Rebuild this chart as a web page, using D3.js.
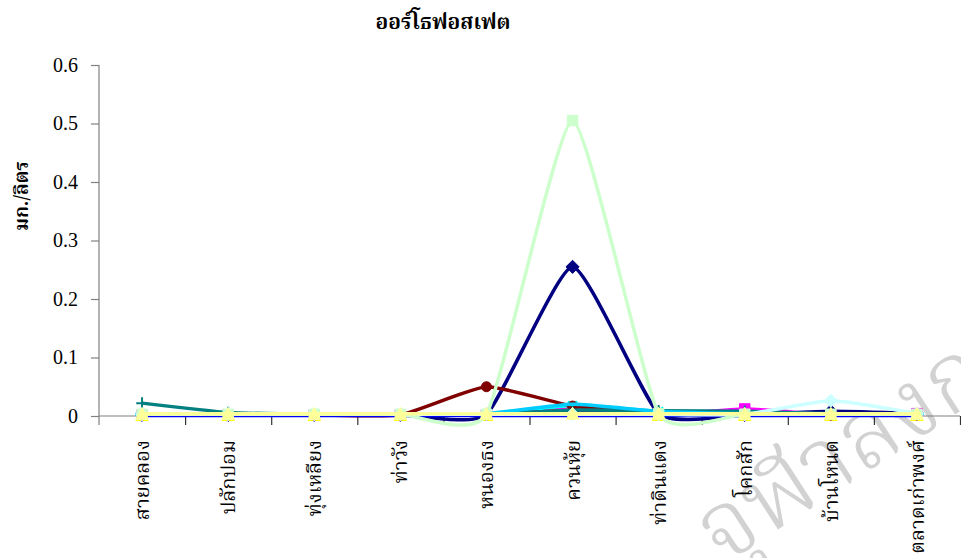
<!DOCTYPE html>
<html>
<head>
<meta charset="utf-8">
<script src="https://cdn.jsdelivr.net/npm/d3@7"></script>
<style>
  body { margin: 0; background: #fff; }
  svg { display: block; }
</style>
</head>
<body>
<svg id="chart" width="961" height="558"></svg>
<script>
// Sampling stations along the canal (category axis)
const stations = ["สายคลอง", "ปลักปอม", "ทุ่งเหลียง", "ท่าวัง", "หนองธง",
                  "ควนหุ้ย", "ท่าดินแดง", "โคกสัก", "บ้านโหนด", "ตลาดเก่าพงศ์"];

// y-axis ticks (mg/L)
const yTicks = [0, 0.1, 0.2, 0.3, 0.4, 0.5, 0.6];

// Orthophosphate per sampling round (mg/L)
const round1  = [0.002, 0.002, 0.002, 0.002, 0.003, 0.255, 0.004, 0.002, 0.008, 0.004];
const round2  = [0.002, 0.002, 0.002, 0.002, 0.002, 0.012, 0.002, 0.012, 0.002, 0.004];
const round3  = [0.002, 0.002, 0.002, 0.002, 0.002, 0.010, 0.002, 0.002, 0.002, 0.002];
const round4  = [0.003, 0.003, 0.003, 0.003, 0.003, 0.018, 0.008, 0.003, 0.003, 0.003];
const round5  = [0.002, 0.002, 0.002, 0.002, 0.002, 0.010, 0.003, 0.002, 0.002, 0.002];
const round6  = [0.002, 0.002, 0.002, 0.002, 0.050, 0.017, 0.005, 0.003, 0.003, 0.003];
const round7  = [0.022, 0.006, 0.003, 0.003, 0.003, 0.010, 0.009, 0.008, 0.004, 0.004];
const round8  = [0.001, 0.001, 0.001, 0.001, 0.001, 0.001, 0.001, 0.001, 0.001, 0.001];
const round9  = [0.003, 0.003, 0.003, 0.003, 0.004, 0.020, 0.008, 0.004, 0.004, 0.004];
const round10 = [0.003, 0.003, 0.003, 0.003, 0.003, 0.003, 0.003, 0.003, 0.026, 0.004];
const round11 = [0.003, 0.003, 0.003, 0.003, 0.003, 0.505, 0.004, 0.003, 0.003, 0.003];
const round12 = [0.004, 0.004, 0.004, 0.004, 0.004, 0.004, 0.004, 0.004, 0.004, 0.004];

// Marker shapes drawn through d3.symbol
const symSquare   = { draw(c, s) { const r = Math.sqrt(s) / 2; c.rect(-r, -r, 2 * r, 2 * r); } };
const symDiamond  = { draw(c, s) { const r = Math.sqrt(s) / 1.6; c.moveTo(0, -r); c.lineTo(r, 0); c.lineTo(0, r); c.lineTo(-r, 0); c.closePath(); } };
const symTriangle = { draw(c, s) { const r = Math.sqrt(s) / 1.7; c.moveTo(0, -r); c.lineTo(r, r * 0.9); c.lineTo(-r, r * 0.9); c.closePath(); } };
const symCross    = { draw(c, s) { const r = Math.sqrt(s) / 2.4; c.moveTo(-r, -r); c.lineTo(r, r); c.moveTo(r, -r); c.lineTo(-r, r); } };
const symStar     = { draw(c, s) { const r = Math.sqrt(s) / 2.4; c.moveTo(-r, -r); c.lineTo(r, r); c.moveTo(r, -r); c.lineTo(-r, r); c.moveTo(0, -r * 1.3); c.lineTo(0, r * 1.3); } };
const symCircle   = { draw(c, s) { const r = Math.sqrt(s) / 2.1; c.moveTo(r, 0); c.arc(0, 0, r, 0, 2 * Math.PI); } };
const symPlus     = { draw(c, s) { const r = Math.sqrt(s) / 1.8; c.moveTo(-r, 0); c.lineTo(r, 0); c.moveTo(0, -r); c.lineTo(0, r); } };
const symDash     = { draw(c, s) { const r = Math.sqrt(s) / 2.2; c.rect(-r, -1, 2 * r, 2); } };
const symLongDash = { draw(c, s) { const r = Math.sqrt(s) / 1.6; c.rect(-r, -1, 2 * r, 2); } };

const series = [
  { values: round1,  color: "#000080", marker: symDiamond,  filled: true },
  { values: round2,  color: "#FF00FF", marker: symSquare,   filled: true },
  { values: round3,  color: "#FFFF00", marker: symTriangle, filled: true },
  { values: round4,  color: "#00FFFF", marker: symCross,    filled: false },
  { values: round5,  color: "#800080", marker: symStar,     filled: false },
  { values: round6,  color: "#800000", marker: symCircle,   filled: true },
  { values: round7,  color: "#008080", marker: symPlus,     filled: false },
  { values: round8,  color: "#0000FF", marker: symDash,     filled: true },
  { values: round9,  color: "#00CCFF", marker: symLongDash, filled: true },
  { values: round10, color: "#CCFFFF", marker: symDiamond,  filled: true },
  { values: round11, color: "#CCFFCC", marker: symSquare,   filled: true },
  { values: round12, color: "#FFFF99", marker: symTriangle, filled: true }
];

const svg = d3.select("#chart");
const thaiFont = "'Noto Serif Thai', 'Noto Sans Thai Looped', Loma, Garuda, Norasi, Kinnari, 'Noto Sans Thai', sans-serif";

const x = d3.scaleBand().domain(stations).range([99, 960]).paddingInner(0).paddingOuter(0);
const cx = d => x(d) + x.bandwidth() / 2;
const y = d3.scaleLinear().domain([0, 0.6]).range([416, 65]);

// Background stamp (light grey, runs off the lower-right corner)
svg.append("text")
  .attr("transform", "translate(722,566) rotate(-33)")
  .style("font-family", thaiFont)
  .style("font-size", "96px")
  .style("font-weight", "300")
  .attr("fill", "#d2d2d2")
  .text("จุฬาลงกรณ์");

// Title
svg.append("text")
  .attr("x", 443).attr("y", 29)
  .attr("text-anchor", "middle")
  .style("font-family", thaiFont)
  .style("font-weight", "bold")
  .style("font-size", "21px")
  .text("ออร์โธฟอสเฟต");

// Y-axis title
svg.append("text")
  .attr("transform", "translate(28,196) rotate(-90)")
  .attr("text-anchor", "middle")
  .style("font-family", thaiFont)
  .style("font-weight", "bold")
  .style("font-size", "19px")
  .text("มก./ลิตร");

// Y axis
const yAxis = svg.append("g")
  .attr("transform", "translate(99,0)")
  .call(d3.axisLeft(y).tickValues(yTicks).tickSize(8).tickPadding(13)
    .tickFormat(d => d === 0 ? "0" : d3.format(".1f")(d)));
yAxis.select(".domain").attr("d", "M0,65V425").attr("stroke", "#808080").attr("stroke-width", 1.2);
yAxis.selectAll(".tick line").attr("stroke", "#808080").attr("stroke-width", 1.2);
yAxis.selectAll(".tick text")
  .style("font-family", "'Liberation Serif', 'Times New Roman', serif")
  .style("font-size", "20px")
  .attr("fill", "#000");

// X axis: boundaries between stations
const xb = d3.scaleLinear().domain([0, stations.length]).range([99, 960]);
const xAxis = svg.append("g")
  .attr("transform", "translate(0,416)")
  .call(d3.axisBottom(xb).tickValues(d3.range(1, stations.length + 1)).tickSize(9).tickFormat(""));
xAxis.select(".domain").attr("d", "M99,0H960").attr("stroke", "#808080").attr("stroke-width", 1.2);
xAxis.selectAll(".tick line").attr("stroke", "#333").attr("stroke-width", 1.2);

// Station labels, rotated
svg.append("g").selectAll("text")
  .data(stations)
  .join("text")
  .attr("transform", d => `translate(${cx(d) + 7},440) rotate(-90)`)
  .attr("text-anchor", "end")
  .style("font-family", thaiFont)
  .style("font-size", "20px")
  .attr("fill", "#000")
  .text(d => d);

// Lines (smoothed) and markers
const line = d3.line()
  .x((v, i) => cx(stations[i]))
  .y(v => y(v))
  .curve(d3.curveCardinal.tension(0.5));

const plot = svg.append("g");
series.forEach(s => {
  const g = plot.append("g");
  g.append("path")
    .attr("d", line(s.values))
    .attr("fill", "none")
    .attr("stroke", s.color)
    .attr("stroke-width", 3.5)
    .attr("stroke-linejoin", "round");
  g.selectAll("path.mk")
    .data(s.values)
    .join("path")
    .attr("class", "mk")
    .attr("transform", (v, i) => `translate(${cx(stations[i])},${y(v)})`)
    .attr("d", d3.symbol().type(s.marker).size(110))
    .attr("fill", s.filled ? s.color : "none")
    .attr("stroke", s.color)
    .attr("stroke-width", s.filled ? 1 : 2);
});
</script>
</body>
</html>
